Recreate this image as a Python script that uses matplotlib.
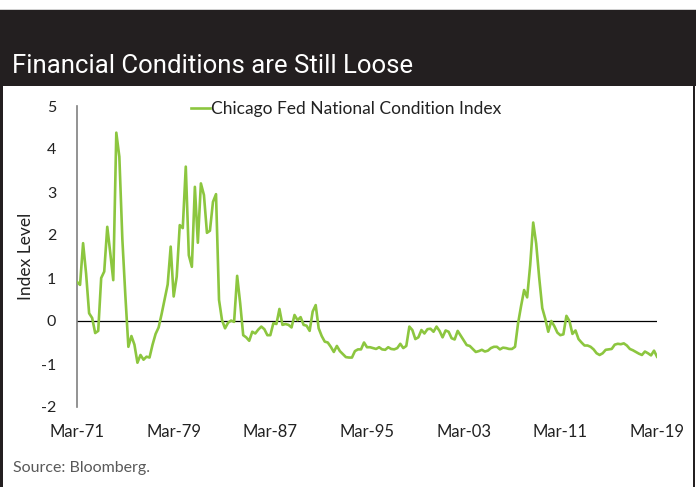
import numpy as np
import pandas as pd
import matplotlib
matplotlib.use('Agg')
import matplotlib.pyplot as plt
import matplotlib.dates as mdates
from matplotlib.patches import Rectangle

# Chicago Fed National Financial Conditions Index, quarterly, Mar-71 .. Mar-19
nfci = [
    0.91, 0.84, 1.81, 1.10, 0.18, 0.07, -0.28, -0.23, 1.00, 1.15,
    2.19, 1.58, 0.95, 4.38, 3.82, 1.90, 0.60, -0.60, -0.35, -0.55,
    -0.97, -0.79, -0.90, -0.83, -0.85, -0.55, -0.30, -0.15, 0.16, 0.50,
    0.85, 1.73, 0.57, 1.03, 2.23, 2.16, 3.59, 1.53, 1.26, 3.12,
    1.82, 3.20, 2.93, 2.05, 2.10, 2.77, 2.95, 0.49, 0.02, -0.17,
    -0.04, 0.01, -0.02, 1.05, 0.41, -0.33, -0.38, -0.46, -0.25, -0.29,
    -0.20, -0.13, -0.19, -0.33, -0.33, -0.05, -0.07, 0.28, -0.09, -0.07,
    -0.09, -0.15, 0.14, 0.02, 0.09, -0.09, -0.11, -0.23, 0.22, 0.37,
    -0.17, -0.35, -0.48, -0.50, -0.60, -0.72, -0.58, -0.70, -0.77, -0.84,
    -0.85, -0.85, -0.70, -0.66, -0.66, -0.50, -0.61, -0.61, -0.63, -0.65,
    -0.61, -0.66, -0.67, -0.61, -0.65, -0.66, -0.63, -0.53, -0.63, -0.58,
    -0.13, -0.21, -0.42, -0.38, -0.21, -0.29, -0.19, -0.18, -0.25, -0.13,
    -0.23, -0.38, -0.22, -0.25, -0.40, -0.43, -0.23, -0.34, -0.45, -0.56,
    -0.58, -0.65, -0.72, -0.70, -0.67, -0.71, -0.69, -0.63, -0.60, -0.60,
    -0.66, -0.62, -0.63, -0.65, -0.65, -0.60, -0.05, 0.35, 0.72, 0.55,
    1.30, 2.29, 1.80, 1.00, 0.30, 0.05, -0.25, 0.00, -0.12, -0.27,
    -0.33, -0.31, 0.12, 0.00, -0.30, -0.22, -0.42, -0.50, -0.57, -0.57,
    -0.60, -0.66, -0.75, -0.79, -0.75, -0.67, -0.66, -0.65, -0.55, -0.53,
    -0.54, -0.52, -0.57, -0.65, -0.68, -0.72, -0.76, -0.79, -0.71, -0.75,
    -0.80, -0.69, -0.83,
]
dates = pd.date_range('1971-03-01', periods=len(nfci), freq='QS-MAR')
tick_dates = dates[::32]
y_ticks = [-2, -1, 0, 1, 2, 3, 4, 5]

title = 'Financial Conditions are Still Loose'
series_name = 'Chicago Fed National Condition Index'
source = 'Source: Bloomberg.'

plt.rcParams['font.family'] = ['Lato', 'DejaVu Sans']
plt.rcParams['axes.unicode_minus'] = False

fig = plt.figure(figsize=(6.96, 4.87), dpi=100)
W, H = 696, 487

def fx(px):
    return px / W

def fy(py):
    return 1 - py / H

# dark header band and panel frame
fig.patches.append(Rectangle((0, fy(86)), 1, fy(10) - fy(86), transform=fig.transFigure,
                             facecolor='#231f20', edgecolor='none', zorder=0))
fig.patches.append(Rectangle((0, fy(9.5)), 1, 0.002, transform=fig.transFigure,
                             facecolor='#d0d0d0', edgecolor='none', zorder=0))
fig.patches.append(Rectangle((0, 0), fx(3), fy(86), transform=fig.transFigure,
                             facecolor='#231f20', edgecolor='none', zorder=0))
fig.patches.append(Rectangle((fx(693), 0), fx(2), fy(86), transform=fig.transFigure,
                             facecolor='#231f20', edgecolor='none', zorder=0))
fig.text(fx(12), fy(73), title, color='white', fontsize=18.5, fontweight='normal',
         family=['Roboto', 'DejaVu Sans'], ha='left', va='baseline')

ax = fig.add_axes([fx(77), fy(407), fx(657) - fx(77), fy(106) - fy(407)])
ax.plot(dates, nfci, color='#8cc63f', lw=1.9, label=series_name, zorder=3)
ax.axhline(0, color='black', lw=0.9, zorder=2)

ax.set_xlim(dates[0], dates[-1])
ax.set_ylim(-2, 5)
ax.set_yticks(y_ticks)
ax.set_xticks(tick_dates)
ax.xaxis.set_major_formatter(mdates.DateFormatter('%b-%y'))
ax.tick_params(axis='both', length=0, colors='#222222')
ax.tick_params(axis='y', labelsize=11.5, pad=15)
ax.tick_params(axis='x', labelsize=12, pad=12)
for s in ['top', 'right', 'bottom']:
    ax.spines[s].set_visible(False)
ax.spines['left'].set_color('#808080')
ax.spines['left'].set_linewidth(1.2)
ax.set_ylabel('Index Level', fontsize=12.5, color='#222222', labelpad=5)

ax.legend(loc='upper center', bbox_to_anchor=(0.464, 1.068), frameon=False, fontsize=12.5,
          handlelength=1.1, handletextpad=0.1, labelcolor='#222222')

fig.text(fx(13), fy(472), source, color='#595959', fontsize=11.5, ha='left', va='baseline')

fig.savefig('out.png', dpi=100, facecolor='white')
